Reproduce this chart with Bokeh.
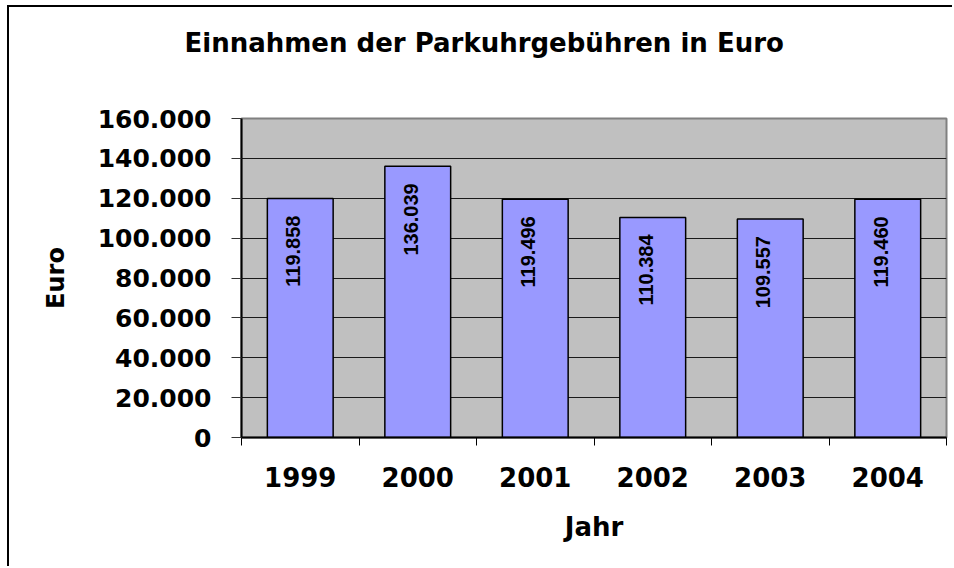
from math import pi
from bokeh.plotting import figure
from bokeh.models import Range1d, FixedTicker, ColumnDataSource, Title, LinearAxis
from bokeh.core.properties import value
from bokeh.embed import file_html
from bokeh.resources import INLINE

# ---- data ----
years = ["1999", "2000", "2001", "2002", "2003", "2004"]
einnahmen = [119858, 136039, 119496, 110384, 109557, 119460]
y_ticks = [0, 20000, 40000, 60000, 80000, 100000, 120000, 140000, 160000]
y_tick_labels = ["0", "20.000", "40.000", "60.000", "80.000",
                 "100.000", "120.000", "140.000", "160.000"]
title_text = "Einnahmen der Parkuhrgebühren in Euro"
x_title = "Jahr"
y_title = "Euro"

positions = list(range(1, len(years) + 1))
bar_labels = [f"{v:,}".replace(",", ".") for v in einnahmen]
boundaries = [p0 - 0.5 for p0 in positions] + [positions[-1] + 0.5]
mid = (positions[0] + positions[-1]) / 2

src = ColumnDataSource(dict(x=positions, top=einnahmen, label=bar_labels))

p = figure(width=945, height=561,
           x_range=Range1d(0.5, len(years) + 0.5),
           y_range=Range1d(y_ticks[0], y_ticks[-1]),
           output_backend="svg", toolbar_location=None,
           min_border_left=232, min_border_right=8,
           min_border_top=111, min_border_bottom=131,
           background_fill_color="#C0C0C0", border_fill_color="white",
           outline_line_color="#808080", outline_line_width=2)
p.styles = {"margin-left": "7px", "margin-top": "5px",
            "border-left": "2px solid black", "border-top": "2px solid black"}

xa = p.below[0]
ya = p.left[0]

# invisible spacer between plot area and title (no line, no visible tick)
spacer = LinearAxis(ticker=FixedTicker(ticks=[mid], minor_ticks=[]),
                    major_label_overrides={mid: ""},
                    major_tick_out=44, major_tick_in=0, minor_tick_out=0,
                    axis_line_color=None, major_tick_line_color=None,
                    minor_tick_line_color=None, major_label_standoff=0,
                    major_label_text_font_size="1px")
p.add_layout(spacer, "above")

# chart title
title = Title(text=title_text, align="left", offset=-57, standoff=34,
              text_font="DejaVu Sans", text_font_size="26px",
              text_font_style="bold", text_color="black")
p.add_layout(title, "above")

# grid
p.xgrid.visible = False
p.ygrid.ticker = FixedTicker(ticks=y_ticks[1:-1])
p.ygrid.grid_line_color = "#1a1a1a"
p.ygrid.grid_line_width = 1

# bars
p.vbar(x="x", top="top", width=0.56, bottom=0, source=src,
       fill_color="#9999FF", line_color="black", line_width=1.5)

# value labels inside bars
p.text(x="x", y="top", text="label", source=src, angle=pi / 2,
       text_align="right", text_baseline="middle",
       x_offset=-7, y_offset=17,
       text_font=value("Liberation Sans"), text_font_style="bold",
       text_font_size="20px", text_color="black")

# y axis
ya.ticker = FixedTicker(ticks=y_ticks)
ya.major_label_overrides = {t: l for t, l in zip(y_ticks, y_tick_labels)}
ya.major_tick_out = 10
ya.major_tick_in = 0
ya.minor_tick_out = 0
ya.minor_tick_in = 0
ya.major_tick_line_color = "#333333"
ya.axis_line_color = "black"
ya.axis_line_width = 2
ya.major_label_standoff = 20
ya.major_label_text_font = "DejaVu Sans"
ya.major_label_text_font_style = "bold"
ya.major_label_text_font_size = "25px"
ya.major_label_text_color = "black"
ya.axis_label = y_title
ya.axis_label_text_font = "DejaVu Sans"
ya.axis_label_text_font_style = "bold"
ya.axis_label_text_font_size = "24px"
ya.axis_label_text_color = "black"
ya.axis_label_standoff = 25

# x axis
xa.ticker = FixedTicker(ticks=positions, minor_ticks=boundaries)
xa.major_label_overrides = {t: y for t, y in zip(positions, years)}
xa.major_tick_out = 0
xa.major_tick_in = 0
xa.minor_tick_out = 8
xa.minor_tick_in = 0
xa.minor_tick_line_color = "black"
xa.axis_line_color = "black"
xa.axis_line_width = 2
xa.major_label_standoff = 21
xa.major_label_text_font = "DejaVu Sans"
xa.major_label_text_font_style = "bold"
xa.major_label_text_font_size = "26px"
xa.major_label_text_color = "black"
xa.axis_label = x_title
xa.axis_label_text_font = "DejaVu Sans"
xa.axis_label_text_font_style = "bold"
xa.axis_label_text_font_size = "26px"
xa.axis_label_text_color = "black"
xa.axis_label_standoff = 22

open("out.html", "w").write(file_html(p, INLINE))
